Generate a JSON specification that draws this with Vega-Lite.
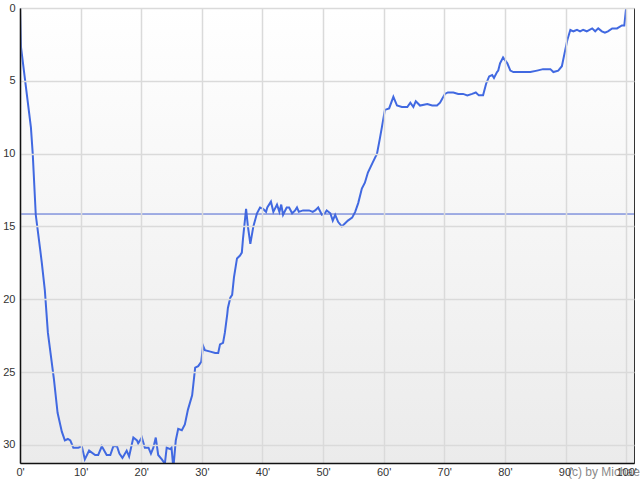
{
  "$schema": "https://vega.github.io/schema/vega-lite/v6.json",
  "width": 614,
  "height": 455,
  "autosize": {"type": "none"},
  "padding": {"left": 20, "top": 8, "right": 6, "bottom": 17},
  "background": "#ffffff",
  "config": {
    "view": {"stroke": "#333333", "strokeWidth": 1},
    "axis": {"labelFont": "Liberation Sans", "labelFontSize": 11, "labelColor": "#333333", "gridColor": "#dadada", "gridWidth": 1.5, "domainColor": "#111111", "domainWidth": 1.5, "ticks": false, "title": null}
  },
  "datasets": {
    "series": [
      {"t": 0, "v": 0}, {"t": 0.17, "v": 2.7}, {"t": 1.0, "v": 5.5}, {"t": 1.8, "v": 8.2}, {"t": 2.1, "v": 10.0},
      {"t": 2.6, "v": 14.2}, {"t": 3.3, "v": 16.5}, {"t": 3.6, "v": 17.5}, {"t": 4.1, "v": 19.4}, {"t": 4.6, "v": 22.3},
      {"t": 5.6, "v": 25.5}, {"t": 6.2, "v": 27.8}, {"t": 6.9, "v": 29.1}, {"t": 7.4, "v": 29.7}, {"t": 7.9, "v": 29.6},
      {"t": 8.3, "v": 29.7}, {"t": 8.8, "v": 30.2}, {"t": 9.6, "v": 30.2}, {"t": 10.2, "v": 30.1}, {"t": 10.7, "v": 31.0},
      {"t": 11.4, "v": 30.4}, {"t": 12.4, "v": 30.7}, {"t": 12.9, "v": 30.7}, {"t": 13.5, "v": 30.1}, {"t": 14.3, "v": 30.7},
      {"t": 14.9, "v": 30.7}, {"t": 15.4, "v": 30.1}, {"t": 16.0, "v": 30.1}, {"t": 16.4, "v": 30.6}, {"t": 16.9, "v": 30.9},
      {"t": 17.6, "v": 30.4}, {"t": 18.0, "v": 30.8}, {"t": 18.7, "v": 29.5}, {"t": 19.3, "v": 29.7}, {"t": 19.5, "v": 29.9},
      {"t": 20.1, "v": 29.5}, {"t": 20.6, "v": 30.2}, {"t": 21.2, "v": 30.2}, {"t": 21.6, "v": 30.6}, {"t": 22.0, "v": 30.2},
      {"t": 22.4, "v": 29.5}, {"t": 22.8, "v": 30.7}, {"t": 23.4, "v": 31.0}, {"t": 23.9, "v": 31.3}, {"t": 24.2, "v": 30.2},
      {"t": 24.8, "v": 30.3}, {"t": 25.0, "v": 30.2}, {"t": 25.3, "v": 31.6}, {"t": 25.7, "v": 29.7}, {"t": 26.1, "v": 28.9},
      {"t": 26.7, "v": 29.0}, {"t": 27.2, "v": 28.6}, {"t": 27.7, "v": 27.6}, {"t": 28.4, "v": 26.6}, {"t": 28.9, "v": 24.7},
      {"t": 29.4, "v": 24.6}, {"t": 29.9, "v": 24.3}, {"t": 30.2, "v": 23.2}, {"t": 30.5, "v": 23.5}, {"t": 31.4, "v": 23.6},
      {"t": 32.2, "v": 23.7}, {"t": 32.7, "v": 23.7}, {"t": 33.0, "v": 23.1}, {"t": 33.5, "v": 23.0}, {"t": 33.8, "v": 22.3},
      {"t": 34.2, "v": 21.0}, {"t": 34.3, "v": 20.6}, {"t": 34.7, "v": 19.9}, {"t": 35.0, "v": 19.7}, {"t": 35.3, "v": 18.5},
      {"t": 35.8, "v": 17.2}, {"t": 36.3, "v": 17.0}, {"t": 36.6, "v": 16.8}, {"t": 36.8, "v": 15.8}, {"t": 37.3, "v": 13.8},
      {"t": 37.6, "v": 15.0}, {"t": 38.0, "v": 16.2}, {"t": 38.5, "v": 15.0}, {"t": 39.1, "v": 14.1}, {"t": 39.6, "v": 13.7},
      {"t": 40.1, "v": 13.8}, {"t": 40.6, "v": 14.0}, {"t": 40.8, "v": 13.7}, {"t": 41.4, "v": 13.3}, {"t": 41.8, "v": 14.0},
      {"t": 42.4, "v": 13.5}, {"t": 42.8, "v": 14.0}, {"t": 43.1, "v": 13.5}, {"t": 43.4, "v": 14.2}, {"t": 44.0, "v": 13.7},
      {"t": 44.4, "v": 13.7}, {"t": 44.9, "v": 14.1}, {"t": 45.4, "v": 13.9}, {"t": 45.7, "v": 13.7}, {"t": 46.0, "v": 14.0},
      {"t": 46.7, "v": 13.9}, {"t": 47.2, "v": 13.9}, {"t": 47.7, "v": 13.9}, {"t": 48.3, "v": 14.0}, {"t": 48.7, "v": 13.9},
      {"t": 49.2, "v": 13.7}, {"t": 49.8, "v": 14.2}, {"t": 50.3, "v": 14.1}, {"t": 50.6, "v": 13.9}, {"t": 51.2, "v": 14.1},
      {"t": 51.6, "v": 14.6}, {"t": 52.0, "v": 14.2}, {"t": 52.5, "v": 14.7}, {"t": 53.1, "v": 15.0}, {"t": 53.6, "v": 14.8},
      {"t": 54.1, "v": 14.6}, {"t": 54.8, "v": 14.4}, {"t": 55.3, "v": 14.0}, {"t": 55.8, "v": 13.4}, {"t": 56.4, "v": 12.4},
      {"t": 56.9, "v": 12.0}, {"t": 57.4, "v": 11.3}, {"t": 58.2, "v": 10.6}, {"t": 58.9, "v": 10.0}, {"t": 59.4, "v": 8.9},
      {"t": 59.7, "v": 8.2}, {"t": 60.2, "v": 7.0}, {"t": 60.9, "v": 6.9}, {"t": 61.6, "v": 6.1}, {"t": 62.2, "v": 6.7},
      {"t": 63.0, "v": 6.8}, {"t": 63.9, "v": 6.8}, {"t": 64.4, "v": 6.5}, {"t": 64.9, "v": 6.8}, {"t": 65.3, "v": 6.4},
      {"t": 66.0, "v": 6.7}, {"t": 67.2, "v": 6.6}, {"t": 68.0, "v": 6.7}, {"t": 68.8, "v": 6.7}, {"t": 69.3, "v": 6.5},
      {"t": 70.1, "v": 5.9}, {"t": 70.6, "v": 5.8}, {"t": 71.5, "v": 5.8}, {"t": 72.3, "v": 5.9}, {"t": 73.1, "v": 5.9},
      {"t": 73.8, "v": 6.0}, {"t": 74.6, "v": 5.9}, {"t": 75.2, "v": 5.8}, {"t": 75.7, "v": 6.0}, {"t": 76.4, "v": 6.0},
      {"t": 76.9, "v": 5.2}, {"t": 77.4, "v": 4.7}, {"t": 77.9, "v": 4.6}, {"t": 78.2, "v": 4.8}, {"t": 78.7, "v": 4.4},
      {"t": 78.9, "v": 4.3}, {"t": 79.2, "v": 3.8}, {"t": 79.7, "v": 3.4}, {"t": 80.4, "v": 3.8}, {"t": 80.9, "v": 4.3},
      {"t": 81.4, "v": 4.4}, {"t": 83.0, "v": 4.4}, {"t": 84.2, "v": 4.4}, {"t": 85.3, "v": 4.3}, {"t": 86.3, "v": 4.2},
      {"t": 87.5, "v": 4.2}, {"t": 88.0, "v": 4.4}, {"t": 88.8, "v": 4.3}, {"t": 89.4, "v": 4.0}, {"t": 89.6, "v": 3.6},
      {"t": 90.3, "v": 2.2}, {"t": 90.8, "v": 1.5}, {"t": 91.3, "v": 1.6}, {"t": 91.9, "v": 1.5}, {"t": 92.4, "v": 1.6},
      {"t": 92.9, "v": 1.5}, {"t": 93.5, "v": 1.6}, {"t": 94.4, "v": 1.4}, {"t": 94.9, "v": 1.6}, {"t": 95.4, "v": 1.4},
      {"t": 96.0, "v": 1.6}, {"t": 96.5, "v": 1.7}, {"t": 97.0, "v": 1.6}, {"t": 97.7, "v": 1.4}, {"t": 98.5, "v": 1.4},
      {"t": 99.3, "v": 1.2}, {"t": 99.7, "v": 1.2}, {"t": 100.0, "v": 0}, {"t": 101.0, "v": 0}
    ],
    "note": [{"t": 90.4, "v": 32.15, "label": "(c) by Michael"}]
  },
  "layer": [
    {
      "data": {"values": [{}]},
      "mark": {"type": "rect", "color": {"gradient": "linear", "x1": 0, "y1": 0, "x2": 0, "y2": 1, "stops": [{"offset": 0, "color": "#ffffff"}, {"offset": 1, "color": "#ebebeb"}]}},
      "encoding": {}
    },
    {
      "data": {"name": "series"},
      "mark": {"type": "line", "color": "#4169e1", "strokeWidth": 2, "clip": true, "interpolate": "linear"},
      "encoding": {
        "x": {"field": "t", "type": "quantitative", "scale": {"domain": [0, 101.3], "nice": false, "zero": false},
              "axis": {"values": [0, 10, 20, 30, 40, 50, 60, 70, 80, 90, 100], "labelExpr": "datum.value + \"'\"", "labelPadding": 3, "labelFlush": false, "labelOverlap": false, "grid": true, "zindex": 1}},
        "y": {"field": "v", "type": "quantitative", "scale": {"domain": [0, 31.25], "reverse": true, "nice": false, "zero": false},
              "axis": {"values": [0, 5, 10, 15, 20, 25, 30], "labelPadding": 5, "labelFlush": false, "labelOverlap": false, "grid": true, "zindex": 1}}
      }
    },
    {
      "data": {"values": [{}]},
      "mark": {"type": "rule", "color": "#4a64d0", "strokeWidth": 1},
      "encoding": {"y": {"datum": 14.15, "type": "quantitative"}}
    },
    {
      "data": {"name": "note"},
      "mark": {"type": "text", "font": "Liberation Sans", "fontSize": 12, "color": "#8a8a8a", "align": "left", "baseline": "alphabetic", "clip": false},
      "encoding": {
        "x": {"field": "t", "type": "quantitative"},
        "y": {"field": "v", "type": "quantitative"},
        "text": {"field": "label"}
      }
    }
  ]
}
